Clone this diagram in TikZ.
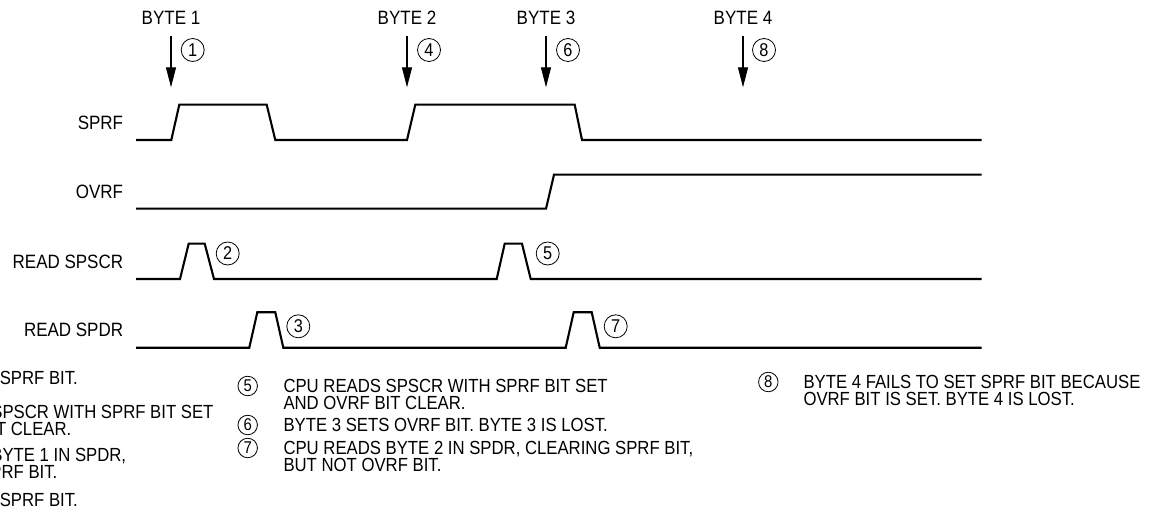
\documentclass[tikz,border=0pt]{standalone}
\usepackage{fontspec}
\setmainfont{Liberation Sans}
\newfontfamily\narrowsans[FakeStretch=0.88]{Liberation Sans}
\usetikzlibrary{arrows.meta}
\begin{document}
\begin{tikzpicture}[x=1pt,y=-1pt,
  sig/.style={line width=2.1pt, line join=miter},
  lbl/.style={anchor=base east, inner sep=0pt, font=\narrowsans\fontsize{19.3}{19.3}\selectfont},
  byte/.style={anchor=base, inner sep=0pt, font=\narrowsans\fontsize{19.3}{19.3}\selectfont},
  arr/.style={line width=1.1pt, -{Triangle[length=20pt,width=10pt]}},
  num/.style={circle, draw, line width=0.8pt, minimum size=23pt, inner sep=0pt, font=\narrowsans\fontsize{18.5}{18.5}\selectfont},
  snum/.style={num, minimum size=19.5pt, font=\narrowsans\fontsize{17}{17}\selectfont},
  note/.style={anchor=north west, inner sep=0pt, align=left, font={\narrowsans\fontsize{19}{17.5}\selectfont\lineskiplimit=-20pt}}
]
\useasboundingbox (0,0) rectangle (1169,518);
\clip (0,0) rectangle (1169,518);

% byte labels, arrows, circled numbers
\node[byte] (b1) at (171,25) {BYTE 1};
\node[byte] (b2) at (407,25) {BYTE 2};
\node[byte] (b3) at (546,25) {BYTE 3};
\node[byte] (b4) at (743,25) {BYTE 4};
\coordinate (s1) at (171,36);   \coordinate (t1) at (171,87.3);
\coordinate (s2) at (407,36);   \coordinate (t2) at (407,87.3);
\coordinate (s3) at (546,36);   \coordinate (t3) at (546,87.3);
\coordinate (s4) at (743,36);   \coordinate (t4) at (743,87.3);
\draw[arr] (s1) -- (t1);
\draw[arr] (s2) -- (t2);
\draw[arr] (s3) -- (t3);
\draw[arr] (s4) -- (t4);
\node[num] (n1) at (192.7,50) {1};
\node[num] (n4) at (429,50) {4};
\node[num] (n6) at (568,50) {6};
\node[num] (n8) at (764,50) {8};

% signal labels
\node[lbl] (lsprf) at (123.3,129.5) {SPRF};
\node[lbl] (lovrf) at (123.3,198.6) {OVRF};
\node[lbl] (lspscr) at (123.3,268.3) {READ SPSCR};
\node[lbl] (lspdr) at (123.3,337) {READ SPDR};

% waveforms
\draw[sig] (136,140) -- (171.3,140) -- (179.3,104.7) -- (266.7,104.7) -- (275.3,140)
  -- (407,140) -- (415.3,104.7) -- (574.7,104.7) -- (582,140) -- (981.7,140);
\draw[sig] (136,208.7) -- (546,208.7) -- (554,174.7) -- (981.7,174.7);
\draw[sig] (136,279) -- (180,279) -- (188.7,243.7) -- (204.7,243.7) -- (214,279)
  -- (496.7,279) -- (504.7,243.7) -- (522,243.7) -- (530.7,279) -- (981.7,279);
\draw[sig] (136,347.7) -- (249.3,347.7) -- (257.3,312.3) -- (275.3,312.3) -- (283.3,347.7)
  -- (565.7,347.7) -- (573.7,312.3) -- (591.7,312.3) -- (599.7,347.7) -- (981.7,347.7);

\node[num] (n2) at (227.7,253.5) {2};
\node[num] (n3) at (298.3,326.3) {3};
\node[num] (n5) at (547.7,253.5) {5};
\node[num] (n7) at (615.7,326.3) {7};

% notes (left column partly outside the page)
\node[note] (i1) at (-111,371) {BYTE 1 SETS SPRF BIT.};
\node[note] (i2) at (-111,405) {CPU READS SPSCR WITH SPRF BIT SET\\AND OVRF BIT CLEAR.};
\node[note] (i3) at (-111,448) {CPU READS BYTE 1 IN SPDR,\\CLEARING SPRF BIT.};
\node[note] (i4) at (-111,493) {BYTE 2 SETS SPRF BIT.};

\node[snum] (m5) at (247.7,386) {5};
\node[note] (i5) at (283.3,379) {CPU READS SPSCR WITH SPRF BIT SET\\AND OVRF BIT CLEAR.};
\node[snum] (m6) at (247.7,425) {6};
\node[note] (i6) at (283.3,418) {BYTE 3 SETS OVRF BIT. BYTE 3 IS LOST.};
\node[snum] (m7) at (247.7,448) {7};
\node[note] (i7) at (283.3,441) {CPU READS BYTE 2 IN SPDR, CLEARING SPRF BIT,\\BUT NOT OVRF BIT.};

\node[snum] (m8) at (768.3,382) {8};
\node[note] (i8) at (803.3,375) {BYTE 4 FAILS TO SET SPRF BIT BECAUSE\\OVRF BIT IS SET. BYTE 4 IS LOST.};
\end{tikzpicture}
\end{document}
